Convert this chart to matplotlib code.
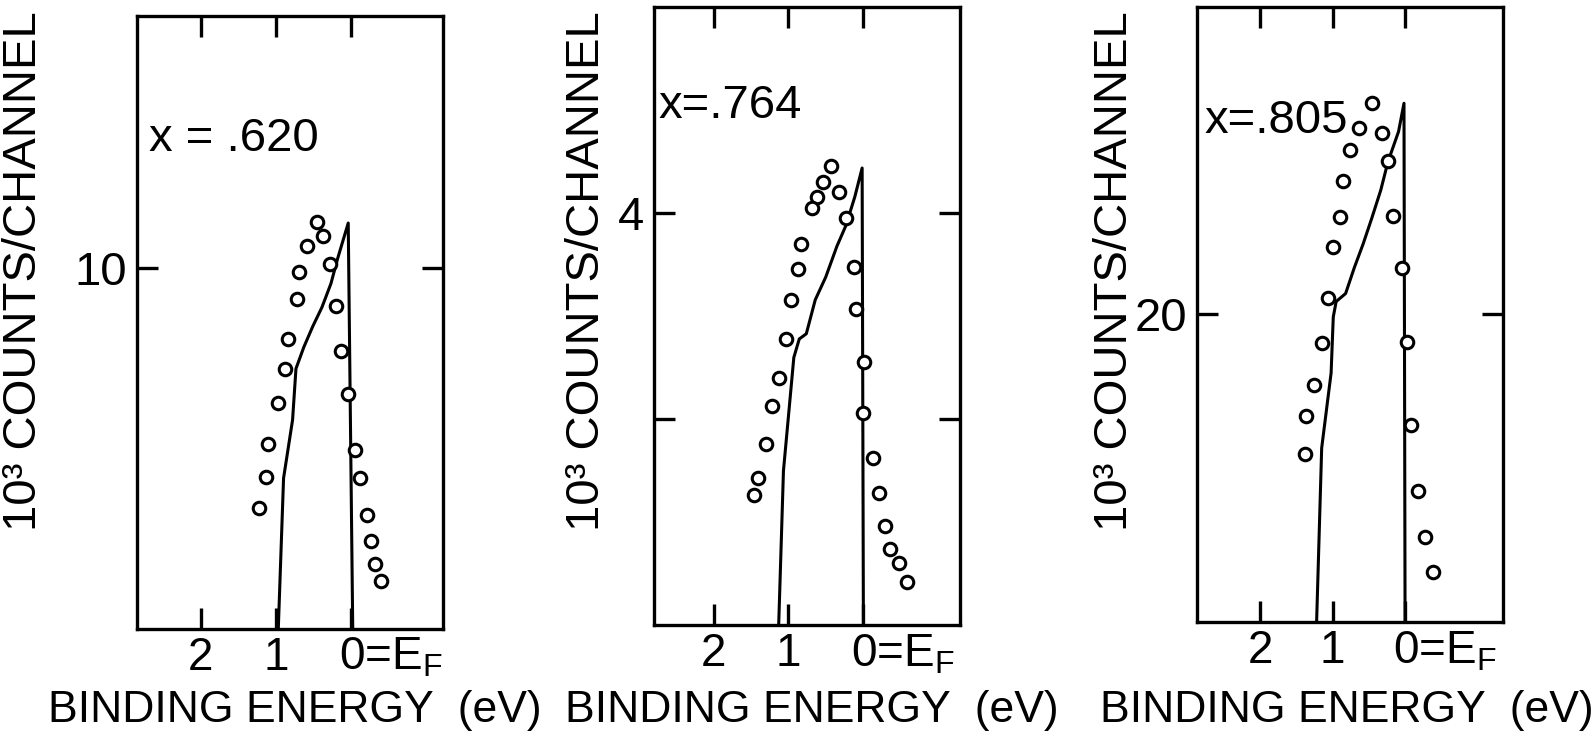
import matplotlib
matplotlib.use("Agg")
import matplotlib.pyplot as plt

plt.rcParams['font.family'] = ['Liberation Sans', 'DejaVu Sans']
plt.rcParams['mathtext.fontset'] = 'custom'
plt.rcParams['mathtext.rm'] = 'Liberation Sans'
plt.rcParams['mathtext.default'] = 'regular'

labels = ['x = .620', 'x=.764', 'x=.805']

# measured spectra, binding energy (eV) and 10^3 counts/channel
e620 = [0.46, 0.38, 0.59, 0.69, 0.285, 0.72, 0.196, 0.845, 0.136, 0.877, 0.044,
        0.97, 1.107, -0.05, 1.127, -0.123, 1.226, -0.216, -0.262, -0.313, -0.40]
c620 = [10.64, 10.45, 10.31, 9.95, 10.06, 9.57, 9.48, 9.02, 8.86, 8.61, 8.26,
        8.14, 7.56, 7.48, 7.11, 7.09, 6.68, 6.58, 6.22, 5.90, 5.67]

e764 = [0.425, 0.53, 0.61, 0.316, 0.687, 0.23, 0.834, 0.871, 0.125, 0.96, 0.088,
        1.03, -0.016, 1.125, 1.213, -0.005, 1.30, -0.133, 1.41, 1.46, -0.217,
        -0.30, -0.366, -0.479, -0.584]
c764 = [4.23, 4.15, 4.08, 4.105, 4.025, 3.975, 3.85, 3.73, 3.74, 3.58, 3.535,
        3.39, 3.28, 3.20, 3.065, 3.03, 2.88, 2.81, 2.715, 2.63, 2.64,
        2.48, 2.37, 2.30, 2.21]

e805 = [0.46, 0.64, 0.32, 0.76, 0.236, 0.86, 0.90, 0.165, 0.99, 0.04,
        1.06, 1.145, -0.03, 1.26, 1.36, -0.075, 1.386, -0.184, -0.27, -0.385]
c805 = [23.43, 23.03, 22.94, 22.67, 22.49, 22.16, 21.58, 21.60, 21.09, 20.75,
        20.27, 19.53, 19.56, 18.86, 18.35, 18.21, 17.74, 17.14, 16.38, 15.81]

# calculated curves
fe620 = [0.97, 0.90, 0.78, 0.735, 0.63, 0.51, 0.39, 0.27, 0.18, 0.04, -0.02]
fc620 = [5.0, 7.09, 7.90, 8.61, 8.91, 9.20, 9.46, 9.79, 10.14, 10.63, 5.0]

fe764 = [1.13, 1.066, 0.927, 0.854, 0.76, 0.64, 0.50, 0.35, 0.23, 0.11, 0.012, -0.005]
fc764 = [2.0, 2.75, 3.30, 3.39, 3.415, 3.58, 3.69, 3.84, 3.94, 4.08, 4.22, 2.0]

fe805 = [1.22, 1.15, 1.02, 0.99, 0.95, 0.82, 0.70, 0.58, 0.46, 0.335, 0.236, 0.09, 0.015, 0.0]
fc805 = [15.0, 17.83, 19.05, 19.96, 20.21, 20.34, 20.76, 21.14, 21.56, 22.02, 22.48,
         22.97, 23.43, 15.0]

yticks = [[10], [3, 4], [20]]
yticklabels = [['10'], ['', '4'], ['20']]

panels = [
    dict(rect=[0.0859, 0.142, 0.192, 0.836], xlim=(2.85, -1.22), ylim=(5, 13.5),
         pts=(e620, c620), fit=(fe620, fc620), lab=(0.04, 0.80), ylx=0.0150, xlx=0.185),
    dict(rect=[0.4103, 0.147, 0.192, 0.843], xlim=(2.8, -1.3), ylim=(2, 5),
         pts=(e764, c764), fit=(fe764, fc764), lab=(0.015, 0.84), ylx=0.368, xlx=0.509),
    dict(rect=[0.7509, 0.151, 0.192, 0.840], xlim=(2.87, -1.35), ylim=(15, 25),
         pts=(e805, c805), fit=(fe805, fc805), lab=(0.025, 0.815), ylx=0.6995, xlx=0.845),
]

fig = plt.figure(figsize=(15.94, 7.33), dpi=100)

for k, p in enumerate(panels):
    ax = fig.add_axes(p['rect'])
    ax.plot(*p['fit'], color='black', lw=2.2, solid_joinstyle='round')
    ax.plot(*p['pts'], 'o', mfc='white', mec='black', ms=9, mew=2.2)
    ax.set_xlim(*p['xlim'])
    ax.set_ylim(*p['ylim'])

    ax.set_xticks([2, 1, 0])
    ax.set_xticklabels(['2', '1', ''])
    ax.set_yticks(yticks[k])
    ax.set_yticklabels(yticklabels[k])
    ax.tick_params(direction='in', top=True, right=True, length=15, width=2.4)
    ax.tick_params(axis='x', labelsize=33, pad=5)
    ax.tick_params(axis='y', labelsize=34, pad=7)
    for s in ax.spines.values():
        s.set_linewidth(2.4)

    # zero of the energy scale sits at the Fermi level
    ax.annotate('0=E$_F$', xy=(0, 0), xycoords=('data', 'axes fraction'),
                xytext=(-9, -5), textcoords='offset points',
                ha='left', va='top', fontsize=33)

    ax.text(*p['lab'], labels[k], transform=ax.transAxes, fontsize=34,
            ha='left', va='center')

    fig.text(p['ylx'], 0.63, '10³ COUNTS/CHANNEL', rotation=90,
             ha='center', va='center', fontsize=34)
    fig.text(p['xlx'], 0.031, 'BINDING ENERGY  (eV)', ha='center', va='center',
             fontsize=32)

fig.savefig('out.png', dpi=100)
